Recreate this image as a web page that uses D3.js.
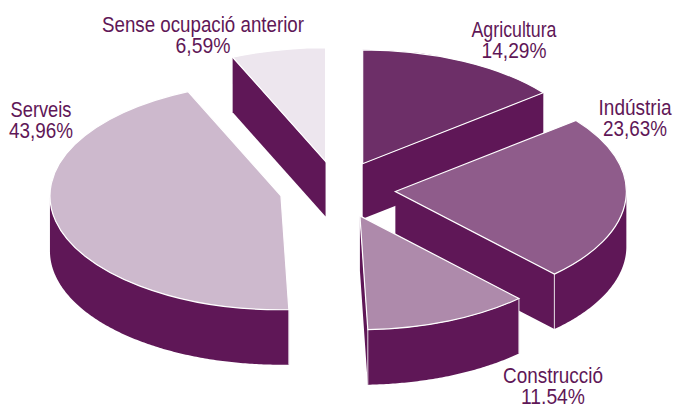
<!DOCTYPE html>
<html>
<head>
<meta charset="utf-8">
<script src="https://cdn.jsdelivr.net/npm/d3@7"></script>
<style>
  html, body { margin: 0; padding: 0; background: #fff; overflow: hidden; }
  svg { display: block; }
  .label { font-family: "Liberation Sans", sans-serif; font-size: 22px; fill: #5f1757; }
</style>
</head>
<body>
<svg width="674" height="404"></svg>
<script>
// data
const categories = ["Agricultura", "Indústria", "Construcció", "Serveis", "Sense ocupació anterior"];
const values = [14.29, 23.63, 11.54, 43.96, 6.59];
const valueLabels = ["14,29%", "23,63%", "11.54%", "43,96%", "6,59%"];
const colors = ["#6d2f68", "#8f5c8b", "#ae8aab", "#cdb9cd", "#ede6ee"];

// label centre x, first baseline y, and the squeezed widths of both lines (no narrow font here)
const labelPos = [[514, 37], [635, 115], [553, 383], [41, 117], [203, 32]];
const labelWidths = [[85, 65], [73, 64], [100, 64], [61, 64], [202, 55]];
// back to front
const drawOrder = [4, 0, 3, 1, 2];

const wallColor = "#5f1757";
const svg = d3.select("svg");
const cx = 337.5, cy = 189.5;
const radius = 231, tilt = 0.493, depth = 55, explode = 58;

const pie = d3.pie().value(d => d).sort(null);
const slices = pie(values);

const arc = d3.arc().innerRadius(0).outerRadius(radius);
const offsetArc = d3.arc().innerRadius(explode).outerRadius(explode);

function apex(d) {
    const c = offsetArc.centroid(d);
    return [cx + c[0], cy + c[1] * tilt];
}

// outline of the top face, clockwise on screen
function outline(d, p) {
    const n = Math.ceil((d.endAngle - d.startAngle) / 0.01);
    const rim = d3.range(n + 1).map(j => {
        const a = d.startAngle + (d.endAngle - d.startAngle) * j / n;
        return [p[0] + radius * Math.sin(a), p[1] - radius * tilt * Math.cos(a)];
    });
    return [p].concat(rim, [p]);
}

// edges going left on screen face the viewer, each run of them becomes one wall
function wallPath(d, p) {
    const pts = outline(d, p);
    const line = d3.line();
    let s = "", run = [];
    const flush = () => {
        if (run.length > 1) {
            const lower = run.slice().reverse().map(q => [q[0], q[1] + depth]);
            s += line(run.concat(lower)) + "Z";
        }
        run = [];
    };
    for (let j = 0; j < pts.length - 1; j++) {
        if (pts[j + 1][0] < pts[j][0]) {
            if (!run.length) run.push(pts[j]);
            run.push(pts[j + 1]);
        } else {
            flush();
        }
    }
    flush();
    return s;
}

drawOrder.forEach(i => {
    const d = slices[i];
    const p = apex(d);
    const g = svg.append("g");

    g.append("path")
        .attr("d", wallPath(d, p))
        .style("fill", wallColor);

    // light crease at the corners that face the viewer
    [d.startAngle, d.endAngle].forEach(a => {
        if (a > Math.PI / 2 && a < Math.PI * 1.05) {
            const x = p[0] + radius * Math.sin(a);
            const y = p[1] - radius * tilt * Math.cos(a);
            g.append("line")
                .attr("x1", x).attr("x2", x)
                .attr("y1", y).attr("y2", y + depth)
                .style("stroke", "#e8e0e8")
                .style("stroke-width", 1);
        }
    });

    g.append("path")
        .attr("d", arc(d))
        .attr("transform", `translate(${p[0]},${p[1]}) scale(1,${tilt})`)
        .style("fill", colors[i])
        .style("stroke", "#fff")
        .style("stroke-width", 1.2)
        .attr("vector-effect", "non-scaling-stroke");
});

categories.forEach((c, i) => {
    [c, valueLabels[i]].forEach((line, k) => {
        const t = svg.append("text")
            .attr("class", "label")
            .attr("text-anchor", "middle")
            .text(line);
        // squeeze horizontally to the width
        const sx = labelWidths[i][k] / t.node().getComputedTextLength();
        t.attr("transform", `translate(${labelPos[i][0]},${labelPos[i][1] + k * 20.5}) scale(${sx},1)`);
    });
});
</script>
</body>
</html>
